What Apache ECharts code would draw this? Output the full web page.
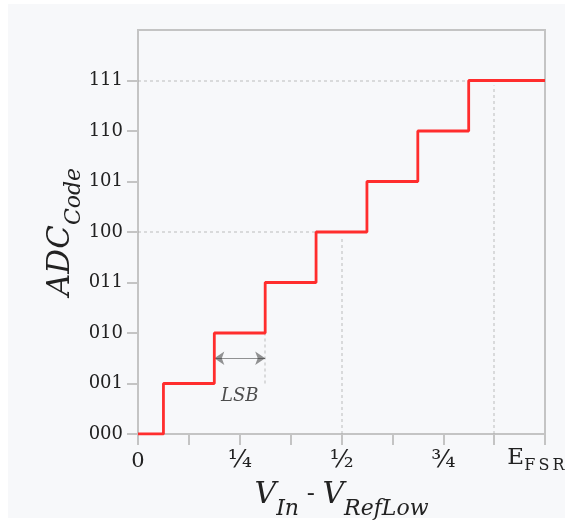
<!DOCTYPE html>
<html>
<head>
<meta charset="utf-8">
<script src="https://cdn.jsdelivr.net/npm/echarts@6/dist/echarts.min.js"></script>
<style>
html,body{margin:0;padding:0;background:#fff;}
#main{width:565px;height:520px;}
</style>
</head>
<body>
<div id="main"></div>
<script>
// Transition points (fraction of full scale) and the code reached there
var stepX = [0, 1/16, 3/16, 5/16, 7/16, 9/16, 11/16, 13/16, 1];
var stepCode = [0, 1, 2, 3, 4, 5, 6, 7, 7];
var yTickLabels = ['000', '001', '010', '011', '100', '101', '110', '111'];
var xTickValues = [0, 0.25, 0.5, 0.75, 1];
var xTickLabels = ['{d|0}', '{f|¼}', '{f|½}', '{f|¾}', '{e|E}{s|F\u2009S\u2009R}'];
var yAxisTitle = '{v|ADC}{s|Code}';
var xAxisTitle = '{v|V}{s|In}{m| - }{v|V}{s|RefLow}';
// Dashed guide lines: [[x1,y1],[x2,y2]]
var guideLines = [
  [[0, 7], [13/16, 7]],
  [[0, 4], [7/16, 4]],
  [[0.5, 0], [0.5, 3.92]],
  [[7/8, 0], [7/8, 6.9]],
  [[5/16, 1], [5/16, 2]]
];
var lsbArrow = [[3/16, 1.5], [5/16, 1.5]];
var lsbLabel = {x: 0.25, y: 0.74, text: 'LSB'};

var serif = 'DejaVu Serif';
var ink = '#222222';
var chart = echarts.init(document.getElementById('main'));
var stepData = stepX.map(function (x, i) { return [x, stepCode[i]]; });

chart.setOption({
  backgroundColor: '#ffffff',
  animation: false,
  graphic: [{
    type: 'rect', z: -100, silent: true,
    shape: {x: 8, y: 4, width: 565, height: 514},
    style: {fill: '#f7f8fa'}
  }, {
    type: 'text', silent: true, z: 10,
    x: 76, y: 232, rotation: Math.PI / 2,
    style: {
      text: yAxisTitle,
      align: 'center', verticalAlign: 'bottom',
      rich: {
        v: {fontFamily: serif, fontStyle: 'italic', fontSize: 31, fill: ink, verticalAlign: 'bottom'},
        s: {fontFamily: serif, fontStyle: 'italic', fontSize: 22, fill: ink, verticalAlign: 'bottom', padding: [0, 0, -9, 0]}
      }
    }
  }],
  grid: {
    left: 138, right: 20, top: 30, bottom: 86,
    containLabel: false, outerBoundsMode: 'none',
    show: true, borderColor: '#c4c4c4', borderWidth: 2,
    backgroundColor: 'transparent'
  },
  xAxis: {
    type: 'value', min: 0, max: 1, interval: 0.125,
    name: xAxisTitle,
    nameLocation: 'middle', nameGap: 42, nameMoveOverlap: false,
    nameTextStyle: {
      rich: {
        v: {fontFamily: serif, fontStyle: 'italic', fontSize: 30, color: ink, verticalAlign: 'bottom', lineHeight: 34},
        m: {fontFamily: serif, fontSize: 24, color: ink, verticalAlign: 'bottom', lineHeight: 34, padding: [0, 0, 3, 0]},
        s: {fontFamily: serif, fontStyle: 'italic', fontSize: 22, color: ink, verticalAlign: 'bottom', lineHeight: 34, padding: [0, 0, -10, 0]}
      }
    },
    axisLine: {show: true, lineStyle: {color: '#c4c4c4', width: 2}},
    axisTick: {show: true, length: 11, lineStyle: {color: '#c4c4c4', width: 2}},
    splitLine: {show: false},
    axisLabel: {
      customValues: xTickValues,
      margin: 12,
      fontFamily: serif, fontSize: 20, color: ink,
      formatter: function (v) {
        var i = xTickValues.indexOf(v);
        return i >= 0 ? xTickLabels[i] : '';
      },
      rich: {
        d: {fontFamily: serif, fontSize: 21, color: ink, verticalAlign: 'bottom', lineHeight: 26},
        f: {fontFamily: serif, fontSize: 25, color: ink, verticalAlign: 'bottom', lineHeight: 26, padding: [0, 0, -1, 0]},
        e: {fontFamily: serif, fontSize: 23, color: ink, verticalAlign: 'bottom', lineHeight: 26, padding: [0, 0, 2, 0]},
        s: {fontFamily: serif, fontSize: 16, color: ink, verticalAlign: 'bottom', lineHeight: 26, padding: [0, 18, -2, 0]}
      }
    }
  },
  yAxis: {
    type: 'value', min: 0, max: 8, interval: 1,
    axisLine: {show: true, lineStyle: {color: '#c4c4c4', width: 2}},
    axisTick: {show: true, length: 11, customValues: [0, 1, 2, 3, 4, 5, 6, 7], lineStyle: {color: '#c4c4c4', width: 2}},
    splitLine: {show: false},
    axisLabel: {
      customValues: [0, 1, 2, 3, 4, 5, 6, 7],
      margin: 15,
      fontFamily: serif, fontSize: 18, color: ink,
      formatter: function (v) { return yTickLabels[v] || ''; }
    }
  },
  series: [
    {
      type: 'lines', coordinateSystem: 'cartesian2d', z: 1, silent: true,
      lineStyle: {color: '#a8a8a8', width: 1.5, type: [3, 3]},
      data: guideLines.map(function (c) { return {coords: c}; })
    },
    {
      type: 'lines', coordinateSystem: 'cartesian2d', z: 3, silent: true,
      symbol: ['arrow', 'arrow'], symbolSize: 10,
      lineStyle: {color: '#2a2a2a', width: 1.2},
      data: [{coords: lsbArrow}]
    },
    {
      type: 'line', step: 'end', z: 4, silent: true,
      showSymbol: false, symbol: 'none',
      lineStyle: {color: '#ff2d2d', width: 2.8},
      data: stepData
    },
    {
      type: 'scatter', z: 5, silent: true, symbolSize: 0,
      data: [[lsbLabel.x, lsbLabel.y]],
      label: {
        show: true, position: 'inside',
        formatter: lsbLabel.text,
        fontFamily: serif, fontStyle: 'italic', fontSize: 18, color: ink
      }
    }
  ]
});
</script>
</body>
</html>
